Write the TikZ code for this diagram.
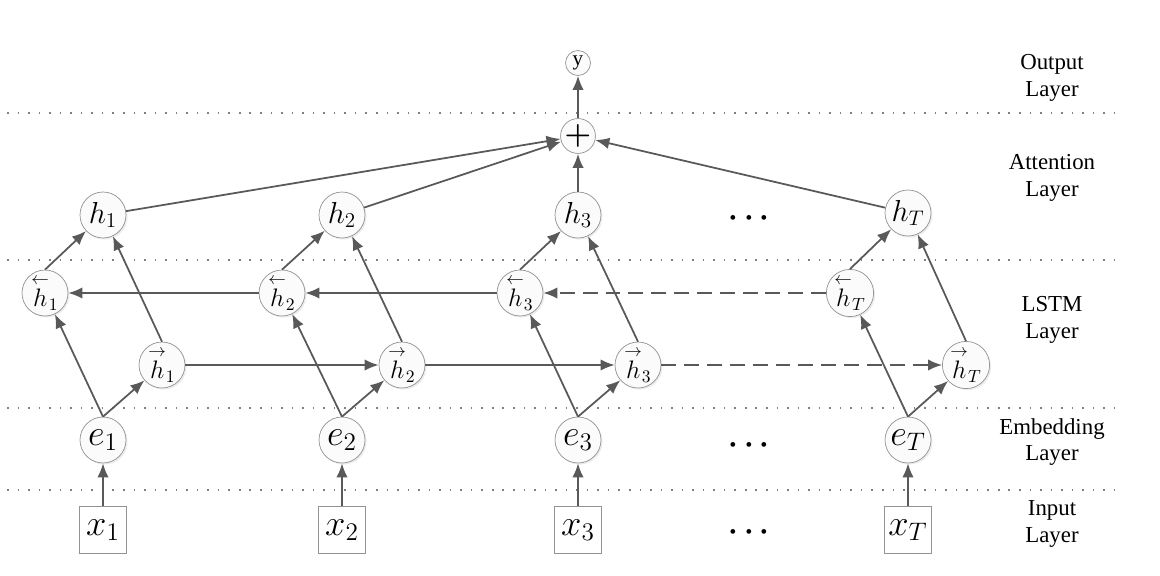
\documentclass[tikz,border=0pt]{standalone}
\usepackage{amsmath,amssymb}
\usepackage{fontspec}
\setmainfont{Liberation Serif}
\usepackage{tikz}
\usetikzlibrary{arrows.meta,shadows}

\begin{document}
\begin{tikzpicture}[x=0.02cm, y=-0.02cm,
    unit/.style={shape=circle, draw=gray!85, fill=gray!3, inner sep=0pt, minimum size=0.92cm,
      drop shadow={opacity=0.15, shadow xshift=0.9pt, shadow yshift=-0.9pt}},
    small/.style={shape=circle, draw=gray!85, fill=gray!3, inner sep=0pt, minimum size=0.5cm},
    inp/.style={shape=rectangle, draw=gray!85, fill=white, inner sep=0pt, minimum size=0.94cm},
    link/.style={draw=black!65, line width=1pt, -{Latex[length=8pt,width=6.5pt]}},
    gap/.style={link, dash pattern=on 8.5pt off 4.5pt},
    sep/.style={draw=gray, line width=0.9pt, dash pattern=on 0.9pt off 5.1pt},
    lay/.style={align=center, font=\fontsize{13}{15}\selectfont, text=black}]
    \useasboundingbox (0,0) rectangle (1160,575);

    \draw[sep] (7,113) -- (1120,113);
    \draw[sep] (7,260) -- (1120,260);
    \draw[sep] (7,408) -- (1120,408);
    \draw[sep] (7,490) -- (1120,490);

    \node[lay] (outlab) at (1052,78) {Output\\Layer};
    \node[lay] (attlab) at (1052,178) {Attention\\Layer};
    \node[lay] (lstmlab) at (1052,320) {LSTM\\Layer};
    \node[lay] (emblab) at (1052,442) {Embedding\\Layer};
    \node[lay] (inplab) at (1052,524) {Input\\Layer};

    % input layer
    \node[inp] (x1) at (103,530) {\huge $x_1$};
    \node[inp] (x2) at (342,530) {\huge $x_2$};
    \node[inp] (x3) at (578,530) {\huge $x_3$};
    \node[inp] (xT) at (908,530) {\huge $x_T$};
    \node (xdots) at (752,532) {\LARGE $\boldsymbol{\cdots}$};

    % embedding layer
    \node[unit] (e1) at (103,440) {\huge $e_1$};
    \node[unit] (e2) at (342,440) {\huge $e_2$};
    \node[unit] (e3) at (578,440) {\huge $e_3$};
    \node[unit] (eT) at (908,440) {\huge $e_T$};
    \node (edots) at (752,445) {\LARGE $\boldsymbol{\cdots}$};

    % lstm layer
    \node[unit] (hb1) at (45,293) {\Large $\overset{\leftarrow}{h}_1$};
    \node[unit] (hb2) at (282,293) {\Large $\overset{\leftarrow}{h}_2$};
    \node[unit] (hb3) at (520,293) {\Large $\overset{\leftarrow}{h}_3$};
    \node[unit] (hbT) at (850,293) {\Large $\overset{\leftarrow}{h}_T$};
    \node[unit] (hf1) at (162,365) {\Large $\overset{\rightarrow}{h}_1$};
    \node[unit] (hf2) at (402,365) {\Large $\overset{\rightarrow}{h}_2$};
    \node[unit] (hf3) at (638,365) {\Large $\overset{\rightarrow}{h}_3$};
    \node[unit] (hfT) at (966,365) {\Large $\overset{\rightarrow}{h}_T$};

    % attention layer
    \node[unit] (h1) at (103,215) {\LARGE $h_1$};
    \node[unit] (h2) at (342,215) {\LARGE $h_2$};
    \node[unit] (h3) at (578,215) {\LARGE $h_3$};
    \node[unit] (hT) at (908,213) {\LARGE $h_T$};
    \node (hdots) at (752,218) {\LARGE $\boldsymbol{\cdots}$};
    \node[small, minimum size=0.54cm] (sum) at (578,136) {\LARGE $\boldsymbol{+}$};

    % output layer
    \node[small] (y) at (578,63) {\large y};

    \draw[link] (x1) -- (e1);
    \draw[link] (x2) -- (e2);
    \draw[link] (x3) -- (e3);
    \draw[link] (xT) -- (eT);

    \draw[link] (e1.north) -- (hb1);
    \draw[link] (e1.north) -- (hf1);
    \draw[link] (e2.north) -- (hb2);
    \draw[link] (e2.north) -- (hf2);
    \draw[link] (e3.north) -- (hb3);
    \draw[link] (e3.north) -- (hf3);
    \draw[link] (eT.north) -- (hbT);
    \draw[link] (eT.north) -- (hfT);

    \draw[link] (hf1) -- (hf2);
    \draw[link] (hf2) -- (hf3);
    \draw[gap] (hf3) -- (hfT);
    \draw[link] (hb2) -- (hb1);
    \draw[link] (hb3) -- (hb2);
    \draw[gap] (hbT) -- (hb3);

    \draw[link] (hb1.north) -- (h1);
    \draw[link] (hf1.north) -- (h1);
    \draw[link] (hb2.north) -- (h2);
    \draw[link] (hf2.north) -- (h2);
    \draw[link] (hb3.north) -- (h3);
    \draw[link] (hf3.north) -- (h3);
    \draw[link] (hbT.north) -- (hT);
    \draw[link] (hfT.north) -- (hT);

    \draw[link] (h1) -- (sum);
    \draw[link] (h2) -- (sum);
    \draw[link] (h3) -- (sum);
    \draw[link] (hT) -- (sum);
    \draw[link] (sum) -- (y);
  \end{tikzpicture}
\end{document}
